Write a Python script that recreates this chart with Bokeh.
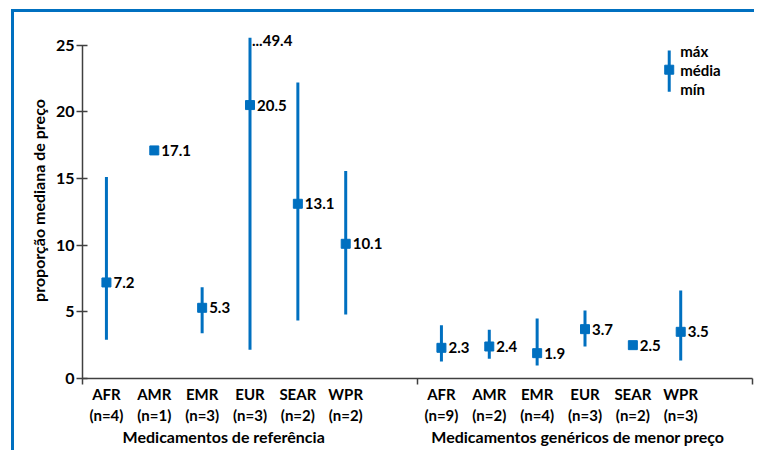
import math
from bokeh.plotting import figure
from bokeh.models import FixedTicker, LinearAxis, Range1d, ColumnDataSource
from bokeh.core.properties import value
from bokeh.embed import file_html
from bokeh.resources import INLINE

# ---------------- data ----------------
regions = ["AFR", "AMR", "EMR", "EUR", "SEAR", "WPR"]
groups = ["Medicamentos de referência", "Medicamentos genéricos de menor preço"]

n_ref = [4, 1, 3, 3, 2, 2]
mean_ref = [7.2, 17.1, 5.3, 20.5, 13.1, 10.1]
max_ref = [15.1, float("nan"), 6.85, 49.4, 22.2, 15.55]
min_ref = [2.9, float("nan"), 3.4, 2.15, 4.35, 4.8]

n_gen = [9, 2, 4, 3, 2, 3]
mean_gen = [2.3, 2.4, 1.9, 3.7, 2.5, 3.5]
max_gen = [4.0, 3.65, 4.5, 5.1, float("nan"), 6.6]
min_gen = [1.27, 1.48, 0.97, 2.4, float("nan"), 1.35]

y_ticks = [0, 5, 10, 15, 20, 25]
legend_labels = ["máx", "média", "mín"]

# ---------------- style ----------------
BLUE = "#0070C0"
AXIS = "#404040"
FONT = "Lato"
Y_TOP = 25.0          # axis top
Y_CAP = 25.55         # drawing ceiling for clipped whiskers
Y_END = 26.69
SLOT = len(regions) + 1

# ---------------- build sources ----------------
xs, means, tops, bots, labels, over = [], [], [], [], [], []
cat_x, cat_lab = [], []
for g, (ns, mn, mx, mi) in enumerate([(n_ref, mean_ref, max_ref, min_ref),
                                       (n_gen, mean_gen, max_gen, min_gen)]):
    for i, r in enumerate(regions):
        x = g * SLOT + i + 0.5
        xs.append(x)
        means.append(mn[i])
        tops.append(min(mx[i], Y_CAP) if not math.isnan(mx[i]) else float("nan"))
        bots.append(mi[i])
        labels.append(f"{mn[i]:.1f}")
        if not math.isnan(mx[i]) and mx[i] > Y_CAP:
            over.append((x, Y_CAP, f"...{mx[i]:.1f}"))
        cat_x.append(x)
        cat_lab.append(f"{r}\n(n={ns[i]})")

src = ColumnDataSource(dict(x=xs, mean=means, top=tops, bot=bots, lab=labels))
x_end = 2 * SLOT
group_x = [2.95, SLOT + 3.35]

p = figure(width=754, height=450, x_range=Range1d(0, x_end), y_range=Range1d(0, Y_END),
           output_backend="svg", toolbar_location=None,
           min_border_left=82, min_border_right=2, min_border_top=22, min_border_bottom=72)
p.border_fill_color = None
p.styles = {"box-shadow": f"inset 11px 9px 0 0 white, inset 14px 12px 0 0 {BLUE}"}
p.outline_line_color = None
p.xgrid.visible = False
p.ygrid.visible = False
p.background_fill_color = None

p.segment(x0="x", y0="bot", x1="x", y1="top", source=src, line_color=BLUE, line_width=3)
p.scatter(x="x", y="mean", source=src, marker="square", size=9, color=BLUE)
p.text(x="x", y="mean", text="lab", source=src, x_offset=7, text_baseline="middle",
       text_font=value(FONT), text_font_style="bold", text_font_size="15px", text_color="black")
if over:
    p.text(x=[o[0] for o in over], y=[o[1] for o in over], text=[o[2] for o in over],
           x_offset=2, y_offset=3, text_baseline="alphabetic",
           text_font=value(FONT), text_font_style="bold", text_font_size="15px", text_color="black")

# legend key
LX = 12.26
leg_y = [24.55, 23.15, 21.7]
p.segment(x0=[LX], y0=[21.5], x1=[LX], y1=[24.6], line_color=BLUE, line_width=3)
p.scatter(x=[LX], y=[23.15], marker="square", size=9, color=BLUE)
p.text(x=[LX] * 3, y=leg_y, text=legend_labels, x_offset=11, text_baseline="middle",
       text_font=value(FONT), text_font_style="bold", text_font_size="15px", text_color="black")

# y axis
ya = p.yaxis[0]
ya.ticker = FixedTicker(ticks=y_ticks)
ya.bounds = (0, Y_TOP)
ya.major_tick_in = 5
ya.major_tick_out = 6
ya.minor_tick_line_color = None
ya.axis_line_color = AXIS
ya.axis_line_width = 1.5
ya.major_tick_line_color = AXIS
ya.major_tick_line_width = 1.5
ya.major_label_standoff = 2
ya.major_label_text_font = FONT
ya.major_label_text_font_style = "bold"
ya.major_label_text_font_size = "16px"
ya.major_label_text_color = "black"
ya.axis_label = "proporção mediana de preço"
ya.axis_label_text_font = FONT
ya.axis_label_text_font_style = "bold"
ya.axis_label_text_font_size = "16px"
ya.axis_label_text_color = "black"
ya.axis_label_standoff = 5

# x axis with category labels
xa = p.xaxis[0]
xa.ticker = FixedTicker(ticks=cat_x, minor_ticks=[0, SLOT, x_end])
xa.major_label_overrides = {x: l for x, l in zip(cat_x, cat_lab)}
xa.bounds = (0, x_end)
xa.major_tick_in = 0
xa.major_tick_out = 0
xa.minor_tick_in = 0
xa.minor_tick_out = 6
xa.minor_tick_line_color = AXIS
xa.minor_tick_line_width = 1.5
xa.axis_line_color = AXIS
xa.axis_line_width = 1.5
xa.major_label_standoff = 0
xa.major_label_text_font = FONT
xa.major_label_text_font_style = "bold"
xa.major_label_text_font_size = "15px"
xa.major_label_text_color = "black"
xa.major_label_text_line_height = 1.2

# group titles
ga = LinearAxis(ticker=FixedTicker(ticks=group_x),
                major_label_overrides={x: t for x, t in zip(group_x, groups)})
ga.axis_line_color = None
ga.major_tick_line_color = None
ga.minor_tick_line_color = None
ga.major_label_standoff = -7
ga.major_label_text_font = FONT
ga.major_label_text_font_style = "bold"
ga.major_label_text_font_size = "16px"
ga.major_label_text_color = "black"
p.add_layout(ga, "below")

open("out.html", "w").write(file_html(p, INLINE))
